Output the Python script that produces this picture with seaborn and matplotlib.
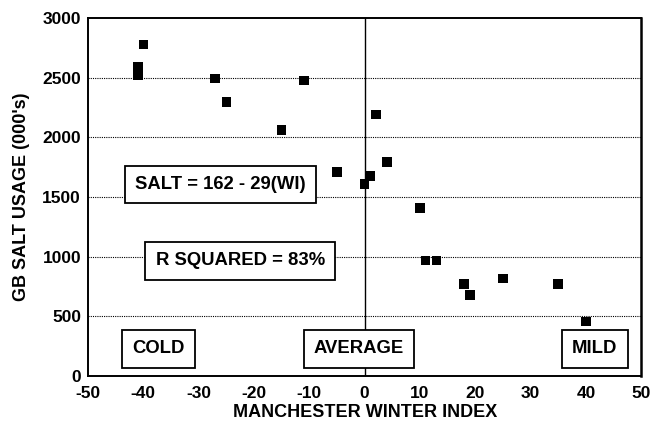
import matplotlib
matplotlib.use("Agg")
import matplotlib.pyplot as plt
import seaborn as sns
import pandas as pd

winter_index = [-41, -41, -40, -27, -25, -15, -11, -5, 0, 1, 2, 4, 10, 11, 13, 18, 19, 25, 35, 40]
salt_usage = [2525, 2590, 2780, 2495, 2300, 2065, 2478, 1710, 1612, 1675, 2192, 1792, 1410, 968, 968, 774, 678, 818, 774, 458]

x_ticks = [-50, -40, -30, -20, -10, 0, 10, 20, 30, 40, 50]
y_ticks = [0, 500, 1000, 1500, 2000, 2500, 3000]

box_labels = ["SALT = 162 - 29(WI)", "R SQUARED = 83%", "COLD", "AVERAGE", "MILD"]
box_x = [-26, -22.5, -37.3, -1.0, 41.6]
box_y = [1605, 965, 228, 228, 228]

sns.set_theme(style="white")
plt.rcParams['font.family'] = ['Liberation Sans', 'DejaVu Sans']
plt.rcParams['text.color'] = 'black'
plt.rcParams['axes.labelcolor'] = 'black'

df = pd.DataFrame({"wi": winter_index, "salt": salt_usage})

fig = plt.figure(figsize=(6.57, 4.23), dpi=100)
ax = fig.add_axes([0.134, 0.111, 0.842, 0.846])

for yv in y_ticks[1:-1]:
    ax.axhline(yv, color="black", lw=0.8, ls=(0, (1, 1)), zorder=1)
ax.axvline(0, color="black", lw=1.0, zorder=1)

sns.scatterplot(data=df, x="wi", y="salt", ax=ax, marker="s", s=48,
                color="black", edgecolor="none", linewidth=0, zorder=3, legend=False)

for lab, bx, by in zip(box_labels, box_x, box_y):
    ax.text(bx, by, lab, ha="center", va="center", fontsize=13.3, fontweight="bold",
            color="black", zorder=4,
            bbox=dict(boxstyle="square,pad=0.55", facecolor="white", edgecolor="black", lw=1.3))

ax.set_xlim(-50, 50)
ax.set_ylim(0, 3000)
ax.set_xticks(x_ticks)
ax.set_yticks(y_ticks)
ax.set_xticklabels([str(v) for v in x_ticks], fontsize=12.5, fontweight="bold")
ax.set_yticklabels([str(v) for v in y_ticks], fontsize=12.5, fontweight="bold")
ax.tick_params(axis="both", direction="out", length=4, width=1, color="black", labelcolor="black")
ax.tick_params(axis="x", pad=3)
ax.tick_params(axis="y", pad=1)
ax.set_xlabel("MANCHESTER WINTER INDEX", fontsize=13, fontweight="bold", labelpad=2)
ax.set_ylabel("GB SALT USAGE (000's)", fontsize=13, fontweight="bold", labelpad=9)

for side, sp in ax.spines.items():
    sp.set_visible(True)
    sp.set_color("black")
    sp.set_linewidth(1.4)
ax.spines["right"].set_linewidth(1.8)

fig.savefig("out.png", dpi=100, facecolor="white")
